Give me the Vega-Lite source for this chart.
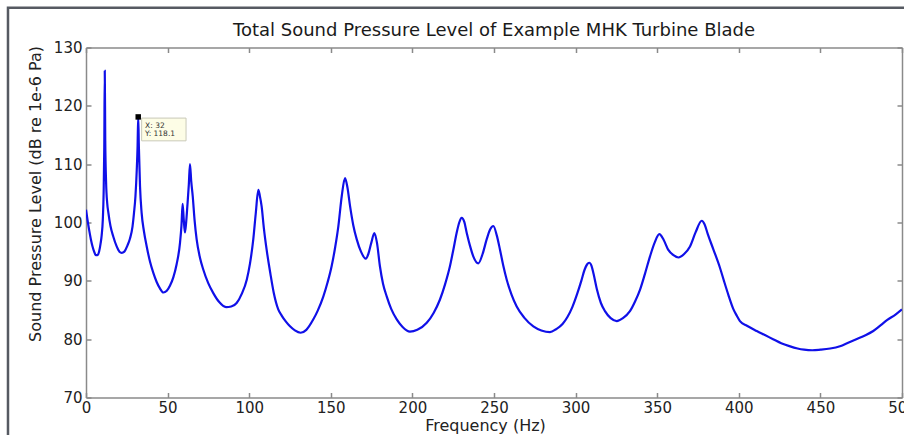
{
  "$schema": "https://vega.github.io/schema/vega-lite/v6.json",
  "width": 816,
  "height": 350,
  "autosize": {"type": "none"},
  "padding": {"left": 86, "top": 47.5, "right": 2, "bottom": 37.5},
  "background": "white",
  "title": {
    "text": "Total Sound Pressure Level of Example MHK Turbine Blade",
    "font": "DejaVu Sans",
    "fontSize": 18,
    "fontWeight": "normal",
    "color": "#1a1a1a",
    "anchor": "middle",
    "baseline": "alphabetic",
    "offset": 0,
    "dy": 47
  },
  "config": {
    "view": {"stroke": null},
    "axis": {
      "labelFont": "DejaVu Sans",
      "labelFontSize": 15,
      "labelColor": "#222222",
      "labelFlush": false,
      "titleFont": "DejaVu Sans",
      "titleFontSize": 16,
      "titleFontWeight": "normal",
      "titleColor": "#222222",
      "domainColor": "#8a8a8a",
      "domainWidth": 1.5,
      "tickColor": "#8a8a8a",
      "tickWidth": 1.5,
      "tickSize": -5,
      "labelPadding": 8,
      "grid": false
    }
  },
  "datasets": {
    "spl": [
      {"f": 0, "spl": 102.2}, {"f": 1, "spl": 100.3}, {"f": 2, "spl": 98.6}, {"f": 3, "spl": 97.1}, {"f": 4, "spl": 95.9},
      {"f": 5, "spl": 95.0}, {"f": 6, "spl": 94.4}, {"f": 7, "spl": 94.4}, {"f": 8, "spl": 95.0}, {"f": 9, "spl": 96.5},
      {"f": 9.6, "spl": 97.8}, {"f": 10.3, "spl": 100.5}, {"f": 10.8, "spl": 105}, {"f": 11.2, "spl": 113}, {"f": 11.5, "spl": 126},
      {"f": 11.8, "spl": 114}, {"f": 12.3, "spl": 107}, {"f": 13, "spl": 103.3}, {"f": 13.7, "spl": 101.7}, {"f": 15, "spl": 99.4},
      {"f": 16.7, "spl": 97.6}, {"f": 18.8, "spl": 95.9}, {"f": 20.5, "spl": 95.0}, {"f": 21.9, "spl": 94.8}, {"f": 23.5, "spl": 95.0},
      {"f": 25.3, "spl": 96.0}, {"f": 27, "spl": 97.3}, {"f": 28.5, "spl": 99.3}, {"f": 29.4, "spl": 101.6}, {"f": 30.3, "spl": 104.5},
      {"f": 31.1, "spl": 109}, {"f": 31.6, "spl": 113}, {"f": 32, "spl": 118.1}, {"f": 32.4, "spl": 113}, {"f": 33.1, "spl": 106.2},
      {"f": 34.1, "spl": 101.6}, {"f": 35.5, "spl": 98.5}, {"f": 37.2, "spl": 95.9}, {"f": 39.2, "spl": 93.3}, {"f": 41.2, "spl": 91.4},
      {"f": 43.3, "spl": 89.8}, {"f": 45.3, "spl": 88.7}, {"f": 47.4, "spl": 88.0}, {"f": 49.5, "spl": 88.3}, {"f": 51.5, "spl": 89.2},
      {"f": 53.5, "spl": 90.6}, {"f": 55.5, "spl": 92.8}, {"f": 57.6, "spl": 96.5}, {"f": 58.5, "spl": 99.5}, {"f": 59.2, "spl": 103.2},
      {"f": 59.9, "spl": 100.5}, {"f": 60.6, "spl": 98.3}, {"f": 61.3, "spl": 99.8}, {"f": 62.1, "spl": 102.8}, {"f": 63, "spl": 106.5},
      {"f": 63.7, "spl": 110.0}, {"f": 64.5, "spl": 107}, {"f": 65.4, "spl": 104.5}, {"f": 66.5, "spl": 100.5}, {"f": 67.8, "spl": 97.1},
      {"f": 69.8, "spl": 94.0}, {"f": 71.9, "spl": 91.9}, {"f": 74.9, "spl": 89.6}, {"f": 78, "spl": 87.9}, {"f": 81.5, "spl": 86.4},
      {"f": 85.8, "spl": 85.5}, {"f": 89, "spl": 85.6}, {"f": 92.3, "spl": 86.2}, {"f": 95.5, "spl": 87.8}, {"f": 98.5, "spl": 90.2},
      {"f": 100.5, "spl": 93.0}, {"f": 102.5, "spl": 97.1}, {"f": 104, "spl": 101.5}, {"f": 105.6, "spl": 105.6}, {"f": 106.5, "spl": 104.6},
      {"f": 107.6, "spl": 102.8}, {"f": 109, "spl": 99}, {"f": 110.7, "spl": 95.3}, {"f": 113, "spl": 91.2}, {"f": 115, "spl": 88.0},
      {"f": 117.8, "spl": 85.1}, {"f": 120, "spl": 84.0}, {"f": 122.5, "spl": 83.0}, {"f": 125, "spl": 82.2}, {"f": 128, "spl": 81.5},
      {"f": 131.5, "spl": 81.1}, {"f": 135, "spl": 81.6}, {"f": 139.3, "spl": 83.4}, {"f": 142, "spl": 84.9}, {"f": 145.4, "spl": 87.3},
      {"f": 148, "spl": 89.7}, {"f": 150.5, "spl": 92.5}, {"f": 152.7, "spl": 95.8}, {"f": 154.6, "spl": 99.3}, {"f": 156.7, "spl": 104.5},
      {"f": 158.7, "spl": 107.6}, {"f": 160.2, "spl": 106}, {"f": 161.8, "spl": 102.8}, {"f": 163.8, "spl": 99.5}, {"f": 165.9, "spl": 97.1},
      {"f": 168.5, "spl": 95.0}, {"f": 171.4, "spl": 93.8}, {"f": 173, "spl": 94.6}, {"f": 174.8, "spl": 96.5}, {"f": 176.7, "spl": 98.2},
      {"f": 178.3, "spl": 96.5}, {"f": 180.1, "spl": 92.5}, {"f": 182, "spl": 89.5}, {"f": 184.3, "spl": 87.3}, {"f": 187, "spl": 85.2},
      {"f": 190.4, "spl": 83.4}, {"f": 194, "spl": 82.1}, {"f": 198.5, "spl": 81.3}, {"f": 203, "spl": 81.6}, {"f": 208.8, "spl": 82.8},
      {"f": 213, "spl": 84.5}, {"f": 216.9, "spl": 86.8}, {"f": 220, "spl": 89.4}, {"f": 223, "spl": 92.5}, {"f": 225, "spl": 95.2},
      {"f": 227.1, "spl": 98.2}, {"f": 228.7, "spl": 100.0}, {"f": 230.2, "spl": 100.8}, {"f": 231.8, "spl": 100.1}, {"f": 233.3, "spl": 98.2},
      {"f": 235.3, "spl": 96.0}, {"f": 237.3, "spl": 94.2}, {"f": 240.4, "spl": 93.0}, {"f": 243, "spl": 94.6}, {"f": 245.5, "spl": 97.1},
      {"f": 247.6, "spl": 98.8}, {"f": 249.6, "spl": 99.4}, {"f": 251.7, "spl": 97.8}, {"f": 253.7, "spl": 95.3}, {"f": 255.7, "spl": 92.6},
      {"f": 257.8, "spl": 90.2}, {"f": 260.8, "spl": 87.6}, {"f": 263.9, "spl": 85.6}, {"f": 268.5, "spl": 83.7}, {"f": 274.1, "spl": 82.2},
      {"f": 279, "spl": 81.5}, {"f": 284.3, "spl": 81.2}, {"f": 288, "spl": 81.7}, {"f": 292, "spl": 82.6}, {"f": 295, "spl": 83.8},
      {"f": 298, "spl": 85.5}, {"f": 301, "spl": 87.8}, {"f": 303.5, "spl": 90.0}, {"f": 305.5, "spl": 91.9}, {"f": 307, "spl": 92.8},
      {"f": 308.4, "spl": 93.1}, {"f": 309.7, "spl": 92.6}, {"f": 311, "spl": 91.2}, {"f": 313, "spl": 88.6}, {"f": 315.5, "spl": 86.2},
      {"f": 318, "spl": 84.8}, {"f": 321.5, "spl": 83.6}, {"f": 325.2, "spl": 83.1}, {"f": 329, "spl": 83.6}, {"f": 333.3, "spl": 84.8},
      {"f": 336.5, "spl": 86.5}, {"f": 339.5, "spl": 88.5}, {"f": 342.5, "spl": 91.2}, {"f": 345.6, "spl": 94.2}, {"f": 348.5, "spl": 96.6},
      {"f": 351.3, "spl": 98.0}, {"f": 354, "spl": 97.0}, {"f": 356.8, "spl": 95.3}, {"f": 360, "spl": 94.4}, {"f": 363, "spl": 94.0},
      {"f": 366.5, "spl": 94.6}, {"f": 370.1, "spl": 95.9}, {"f": 373.5, "spl": 98.3}, {"f": 377.3, "spl": 100.3}, {"f": 379, "spl": 99.7},
      {"f": 381, "spl": 98.0}, {"f": 384.4, "spl": 95.4}, {"f": 388.5, "spl": 92.2}, {"f": 391, "spl": 89.9}, {"f": 393.6, "spl": 87.6},
      {"f": 396.6, "spl": 85.2}, {"f": 398.8, "spl": 84.0},
      {"f": 400.7, "spl": 83.1}, {"f": 405, "spl": 82.3}, {"f": 411, "spl": 81.4}, {"f": 416, "spl": 80.7}, {"f": 421, "spl": 80.0},
      {"f": 426, "spl": 79.3}, {"f": 431, "spl": 78.8}, {"f": 436, "spl": 78.4}, {"f": 440, "spl": 78.2}, {"f": 445, "spl": 78.1},
      {"f": 450, "spl": 78.2}, {"f": 456, "spl": 78.4}, {"f": 462, "spl": 78.8}, {"f": 467, "spl": 79.4}, {"f": 472, "spl": 80.0},
      {"f": 477, "spl": 80.6}, {"f": 482.4, "spl": 81.4}, {"f": 487, "spl": 82.4}, {"f": 491, "spl": 83.3}, {"f": 496, "spl": 84.2},
      {"f": 500, "spl": 85.1}
    ],
    "tip": [
      {"f": 32, "spl": 118.1, "line1": "X: 32", "line2": "Y: 118.1"}
    ]
  },
  "resolve": {"axis": {"x": "independent", "y": "independent"}},
  "layer": [
    {
      "data": {"name": "tip"},
      "mark": {"type": "rect", "fill": null, "stroke": "#565a62", "strokeWidth": 2.5, "clip": false},
      "encoding": {
        "x": {"datum": -47.8, "type": "quantitative", "scale": {"domain": [0, 500], "nice": false, "zero": false}, "axis": null},
        "x2": {"datum": 508},
        "y": {"datum": 136.8, "type": "quantitative", "scale": {"domain": [70, 130], "nice": false, "zero": false}, "axis": null},
        "y2": {"datum": 61.9}
      }
    },
    {
      "data": {"name": "spl"},
      "mark": {"type": "line", "color": "#1010e8", "strokeWidth": 2.2, "interpolate": "monotone", "clip": true},
      "encoding": {
        "x": {
          "field": "f", "type": "quantitative",
          "axis": {"orient": "bottom", "title": "Frequency (Hz)", "values": [0, 50, 100, 150, 200, 250, 300, 350, 400, 450, 500], "titlePadding": 2, "titleX": 399}
        },
        "y": {
          "field": "spl", "type": "quantitative",
          "axis": {"orient": "left", "title": "Sound Pressure Level (dB re 1e-6 Pa)", "values": [70, 80, 90, 100, 110, 120, 130], "labelPadding": 9, "titlePadding": 10, "titleY": 146}
        }
      }
    },
    {
      "data": {"name": "tip"},
      "mark": {"type": "rect", "fill": "#fdfde6", "stroke": "#c9c9b8", "strokeWidth": 1},
      "encoding": {
        "x": {"datum": 34.1, "type": "quantitative", "axis": {"orient": "top", "labels": false, "title": null, "values": [0, 50, 100, 150, 200, 250, 300, 350, 400, 450, 500]}},
        "x2": {"datum": 61.3},
        "y": {"datum": 117.9, "type": "quantitative", "axis": {"orient": "right", "labels": false, "title": null, "values": [70, 80, 90, 100, 110, 120, 130]}},
        "y2": {"datum": 114.0}
      }
    },
    {
      "data": {"name": "tip"},
      "mark": {"type": "text", "font": "DejaVu Sans", "fontSize": 7.5, "color": "#333333", "align": "left", "baseline": "middle"},
      "encoding": {
        "x": {"datum": 36.2, "type": "quantitative", "axis": null},
        "y": {"datum": 116.6, "type": "quantitative", "axis": null},
        "text": {"field": "line1"}
      }
    },
    {
      "data": {"name": "tip"},
      "mark": {"type": "text", "font": "DejaVu Sans", "fontSize": 7.5, "color": "#333333", "align": "left", "baseline": "middle"},
      "encoding": {
        "x": {"datum": 36.2, "type": "quantitative", "axis": null},
        "y": {"datum": 115.2, "type": "quantitative", "axis": null},
        "text": {"field": "line2"}
      }
    },
    {
      "data": {"name": "tip"},
      "mark": {"type": "point", "shape": "square", "filled": true, "color": "black", "size": 30, "opacity": 1},
      "encoding": {
        "x": {"field": "f", "type": "quantitative", "axis": null},
        "y": {"field": "spl", "type": "quantitative", "axis": null}
      }
    }
  ]
}
